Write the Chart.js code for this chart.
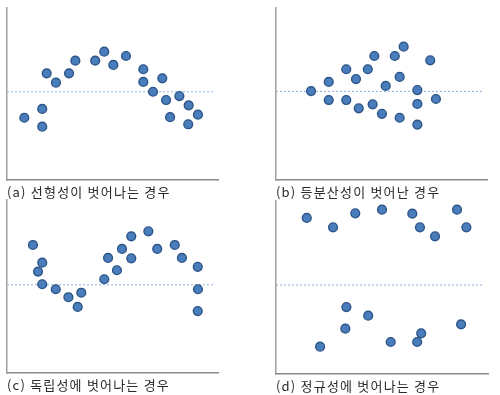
<!DOCTYPE html>
<html><head><meta charset="utf-8">
<script src="https://cdn.jsdelivr.net/npm/chart.js@4/dist/chart.umd.min.js"></script>
<style>
html,body{margin:0;padding:0;background:#fff;}
body{width:500px;height:395px;position:relative;overflow:hidden;}
.p{position:absolute;width:250px;height:200px;}
canvas{display:block;}
</style></head><body>
<div class="p" style="left:0;top:0"><canvas id="ca" width="250" height="200"></canvas></div>
<div class="p" style="left:250px;top:0"><canvas id="cb" width="250" height="200"></canvas></div>
<div class="p" style="left:0;top:193px"><canvas id="cc" width="250" height="200"></canvas></div>
<div class="p" style="left:250px;top:194px"><canvas id="cd" width="250" height="200"></canvas></div>
<script>
// captions
const captions = ["(a) 선형성이 벗어나는 경우","(b) 등분산성이 벗어난 경우","(c) 독립성에 벗어나는 경우","(d) 정규성에 벗어나는 경우"];
// residual reference level (dashed line) per panel
const refLevel = [51.3, 51.5, 51.0, 51.4];
const refEnd = [98.6, 98.0, 98.6, 98.0];
// panel (a)
const ax = [8.2,16.7,16.7,18.8,23.2,29.4,32.4,41.8,46.1,50.4,56.4,64.6,64.6,69.2,73.6,75.4,77.3,81.7,86.1,85.9,90.5];
const ay = [36.2,41.3,31.0,62.0,56.6,62.0,69.4,69.4,74.6,66.9,72.1,64.4,57.0,51.3,59.1,46.5,36.5,48.8,43.4,32.4,38.0];
// panel (b)
const bx = [16.6,25.0,25.0,33.3,33.3,37.9,39.2,43.5,45.8,46.6,50.2,52.0,56.3,58.6,58.6,60.5,67.0,67.0,67.0,73.1,75.8];
const by = [51.7,57.0,46.5,64.4,46.5,58.7,41.7,64.4,44.0,72.1,38.5,54.7,72.1,59.9,36.2,77.5,52.3,44.2,32.2,69.6,47.1];
// panel (c)
const cx = [12.3,16.7,14.7,16.7,23.1,29.1,35.2,33.5,46.1,47.9,52.1,54.5,58.9,58.9,67.0,71.2,79.5,82.9,90.4,90.5,90.4];
const cy = [74.0,63.8,58.6,51.3,48.4,43.8,46.4,38.2,54.2,66.5,59.4,71.7,79.0,66.3,81.9,71.7,74.0,66.5,61.4,48.4,35.8];
// panel (d)
const dx = [14.5,26.9,37.4,50.0,64.3,67.9,75.0,85.4,89.8,33.2,32.7,20.8,43.5,54.1,66.6,68.5,87.3];
const dy = [90.2,84.8,92.9,95.0,92.7,84.8,79.6,95.0,84.8,38.7,26.2,15.8,33.7,18.5,18.5,23.5,28.7];

const panels = [
  {id:'ca', xs:ax, ys:ay, pad:{left:7,top:8,right:32,bottom:0}},
  {id:'cb', xs:bx, ys:by, pad:{left:26,top:8,right:13,bottom:0}},
  {id:'cc', xs:cx, ys:cy, pad:{left:7,top:7,right:32,bottom:0}},
  {id:'cd', xs:dx, ys:dy, pad:{left:26,top:7,right:12,bottom:0}}
];

const spacing = {
  id:'spacing',
  beforeDraw(chart){ chart.ctx.letterSpacing = '1.2px'; }
};

panels.forEach((p,i)=>{
  const pts = p.xs.map((x,k)=>({x:x,y:p.ys[k]}));
  new Chart(document.getElementById(p.id), {
    type:'scatter',
    plugins:[spacing],
    data:{datasets:[
      {type:'line', data:[{x:0,y:refLevel[i]},{x:refEnd[i],y:refLevel[i]}], borderColor:'#8fb2dc', borderWidth:1, borderDash:[2,2], pointRadius:0, fill:false, order:2},
      {data:pts, backgroundColor:'#4a7dbb', borderColor:'#2d5688', borderWidth:1.4, pointRadius:4.4, pointHoverRadius:4.4, order:1}
    ]},
    options:{
      responsive:false, animation:false, maintainAspectRatio:false,
      layout:{padding:p.pad},
      plugins:{
        legend:{display:false}, tooltip:{enabled:false},
        title:{display:true, position:'bottom', align:'start', text:captions[i],
          color:'#2a2a2a', font:{family:'"Noto Sans CJK KR", sans-serif', size:13, weight:'normal', lineHeight:1.2},
          padding:{top:4,bottom:0.4}}
      },
      scales:{
        x:{type:'linear', min:0, max:100, ticks:{display:false}, grid:{display:false, drawTicks:false},
           border:{display:true, color:'#8a8a8a', width:1.5}},
        y:{type:'linear', min:0, max:100, ticks:{display:false}, grid:{display:false, drawTicks:false},
           border:{display:true, color:'#a0a0a0', width:1.5}}
      }
    }
  });
});
</script>
</body></html>
